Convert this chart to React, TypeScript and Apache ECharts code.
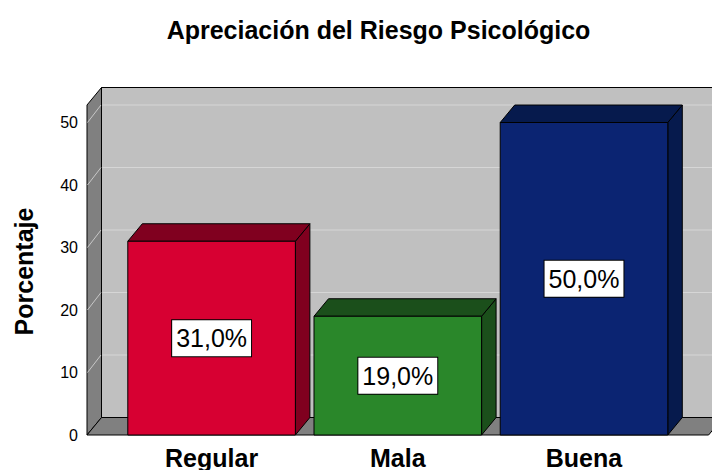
import React, { useEffect, useRef } from 'react';
import * as echarts from 'echarts';

const CATEGORIES = ['Regular', 'Mala', 'Buena'];
const VALUES = [31.0, 19.0, 50.0];
const FRONT_COLORS = ['#d70032', '#2a872a', '#0b2472'];
const DARK_COLORS = ['#80001f', '#1b4f1b', '#061a4d'];
const Y_TICKS = [0, 10, 20, 30, 40, 50];
const Y_MAX = 52.8;
const TITLE = 'Apreciación del Riesgo Psicológico';
const Y_NAME = 'Porcentaje';

const DX = 14.5;
const DY = -17.5;
const SIDE = 31.5;
const FONT = '"Liberation Sans", Arial, sans-serif';

export default function App() {
  const ref = useRef<HTMLDivElement>(null);
  useEffect(() => {
    const chart = echarts.init(ref.current!, null, { renderer: 'svg' });

    const wallsRender = (params: any, api: any) => {
      const cs = params.coordSys;
      const x0 = cs.x - SIDE;
      const x1 = cs.x + cs.width + SIDE;
      const yT = cs.y;
      const yB = cs.y + cs.height;
      const children: any[] = [];
      children.push({
        type: 'rect',
        shape: { x: x0 + DX, y: yT + DY, width: x1 - x0, height: yB - yT },
        style: { fill: '#c0c0c0', stroke: '#000', lineWidth: 1 },
      });
      children.push({
        type: 'polygon',
        shape: { points: [[x0, yT], [x0 + DX, yT + DY], [x0 + DX, yB + DY], [x0, yB]] },
        style: { fill: '#808080', stroke: '#000', lineWidth: 1 },
      });
      children.push({
        type: 'polygon',
        shape: { points: [[x0, yB], [x0 + DX, yB + DY], [x1 + DX, yB + DY], [x1, yB]] },
        style: { fill: '#808080', stroke: '#000', lineWidth: 1 },
      });
      Y_TICKS.forEach((v) => {
        if (v === 0) return;
        const y = api.coord([0, v])[1];
        children.push({
          type: 'line',
          shape: { x1: x0 + DX + 1, y1: y + DY, x2: x1 + DX, y2: y + DY },
          style: { stroke: '#d6d6d6', lineWidth: 1 },
        });
        children.push({
          type: 'line',
          shape: { x1: x0 + 0.5, y1: y, x2: x0 + DX - 0.5, y2: y + DY },
          style: { stroke: '#c8c8c8', lineWidth: 1 },
        });
      });
      return { type: 'group', children };
    };

    const barsRender = (params: any, api: any) => {
      const i = api.value(0);
      const v = api.value(1);
      const top = api.coord([i, v]);
      const base = api.coord([i, 0]);
      const bw = api.size([1, 0])[0] * 0.9;
      const xl = top[0] - bw / 2;
      const xr = top[0] + bw / 2;
      const yt = top[1];
      const yb = base[1];
      const dark = DARK_COLORS[params.dataIndex];
      const front = FRONT_COLORS[params.dataIndex];
      const label = v.toFixed(1).replace('.', ',') + '%';
      return {
        type: 'group',
        children: [
          {
            type: 'polygon',
            shape: { points: [[xr, yt], [xr + DX, yt + DY], [xr + DX, yb + DY], [xr, yb]] },
            style: { fill: dark, stroke: '#000', lineWidth: 1 },
          },
          {
            type: 'polygon',
            shape: { points: [[xl, yt], [xl + DX, yt + DY], [xr + DX, yt + DY], [xr, yt]] },
            style: { fill: dark, stroke: '#000', lineWidth: 1 },
          },
          {
            type: 'rect',
            shape: { x: xl, y: yt, width: bw, height: yb - yt },
            style: { fill: front, stroke: '#000', lineWidth: 1 },
          },
          {
            type: 'text',
            x: top[0],
            y: (yt + yb) / 2,
            style: {
              text: label,
              fill: '#000',
              font: '25px ' + FONT,
              align: 'center',
              verticalAlign: 'middle',
              backgroundColor: '#fff',
              borderColor: '#000',
              borderWidth: 1,
              padding: [6, 4, 5, 4],
            },
          },
        ],
      };
    };

    chart.setOption({
      animation: false,
      backgroundColor: '#fff',
      grid: { left: 118.5, top: 105, width: 558.6, height: 330 },
      xAxis: {
        type: 'category',
        data: CATEGORIES,
        axisLine: { show: false },
        axisTick: { show: false },
        axisLabel: { fontFamily: FONT, fontWeight: 'bold', fontSize: 25, color: '#000', margin: 10 },
      },
      yAxis: {
        type: 'value',
        min: 0,
        max: Y_MAX,
        interval: 10,
        axisLine: { show: false },
        axisTick: { show: false },
        splitLine: { show: false },
        axisLabel: { fontFamily: FONT, fontSize: 16, color: '#000', margin: 40.5, showMaxLabel: false },
      },
      graphic: [
        {
          type: 'text',
          x: 378.5,
          y: 29.6,
          style: {
            text: TITLE,
            font: 'bold 25px ' + FONT,
            fill: '#000',
            align: 'center',
            verticalAlign: 'middle',
            textAlign: 'center',
            textVerticalAlign: 'middle',
          },
        },
        {
          type: 'text',
          x: 24,
          y: 271.5,
          rotation: Math.PI / 2,
          style: {
            text: Y_NAME,
            font: 'bold 25px ' + FONT,
            fill: '#000',
            align: 'center',
            verticalAlign: 'middle',
            textAlign: 'center',
            textVerticalAlign: 'middle',
          },
        },
      ],
      series: [
        {
          type: 'custom',
          z: 1,
          clip: false,
          silent: true,
          renderItem: wallsRender,
          data: [[0, 0]],
        },
        {
          type: 'custom',
          z: 2,
          clip: false,
          renderItem: barsRender,
          data: VALUES.map((v, i) => [i, v]),
        },
      ],
    });
    return () => chart.dispose();
  }, []);
  return <div ref={ref} style={{ position: 'fixed', left: 0, top: 0, width: 712, height: 470 }} />;
}
